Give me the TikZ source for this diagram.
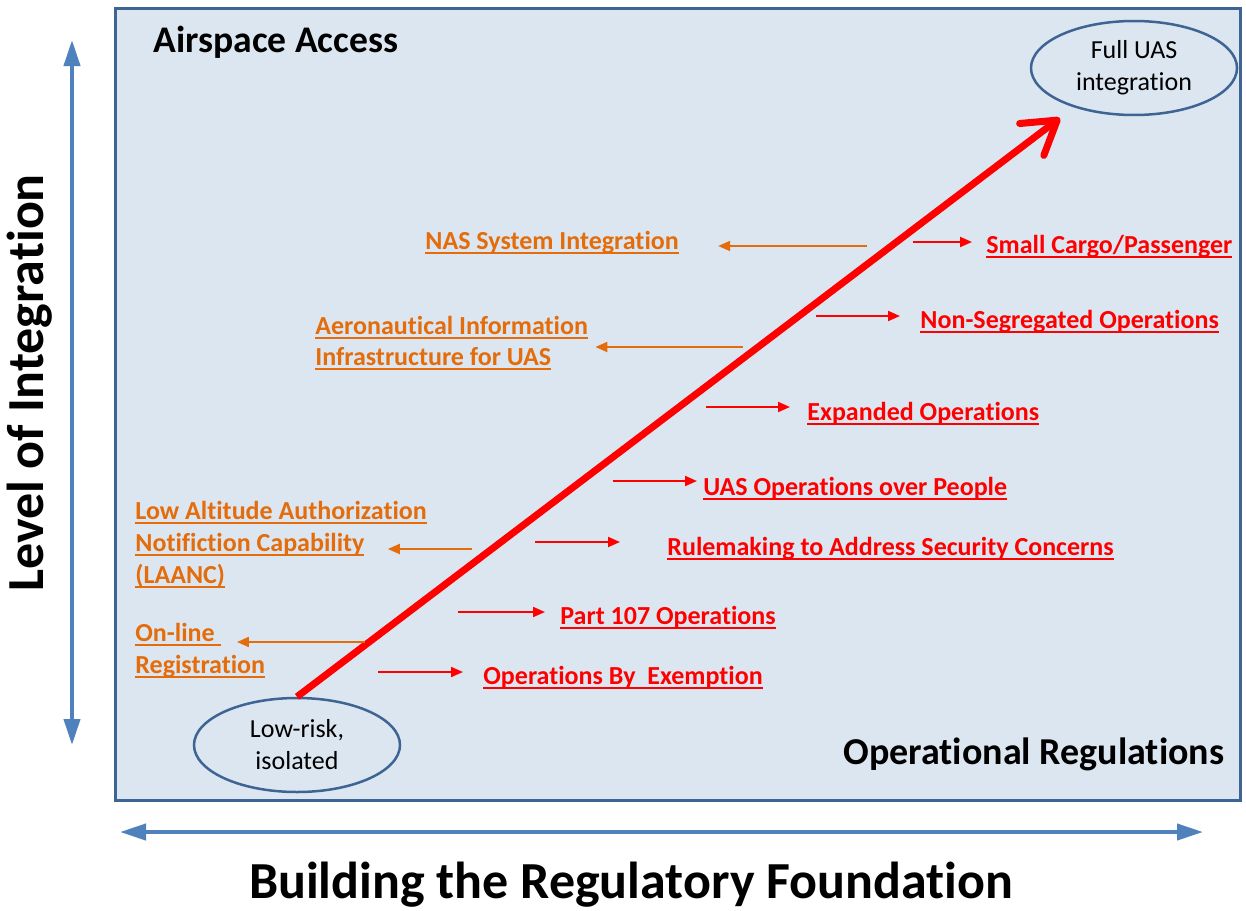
\documentclass[tikz,border=0pt]{standalone}
\usepackage{fontspec}
\setmainfont[Ligatures=NoCommon]{Carlito}
\usetikzlibrary{arrows.meta,shapes.geometric}
\definecolor{uafill}{RGB}{220,230,241}
\definecolor{uaframe}{RGB}{62,100,148}
\definecolor{uablue}{RGB}{79,129,189}
\definecolor{uaorange}{RGB}{228,108,10}
\newcommand{\ulabel}[1]{\setbox0\hbox{#1}\rlap{\rule[-2.4pt]{\wd0}{0.8pt}}\box0}
\begin{document}
\begin{tikzpicture}[x=0.5pt,y=-0.5pt,
  lbl/.style={anchor=base west,inner sep=0pt,font=\bfseries\fontsize{13}{15}\selectfont},
  oplbl/.style={lbl,text=red},
  auxlbl/.style={lbl,text=uaorange},
  stage/.style={ellipse,draw=uaframe,line width=1.25pt,minimum width=103pt,minimum height=47pt,align=center,inner sep=0pt,font=\fontsize{13}{16}\selectfont},
  oparrow/.style={red,line width=1pt,-{Triangle[length=6pt,width=5pt]}},
  auxarrow/.style={uaorange,line width=1pt,-{Triangle[length=6pt,width=5pt]}},
  axisarrow/.style={uablue,line width=2pt,{Triangle[length=13pt,width=8pt]}-{Triangle[length=13pt,width=8pt]}}]
    \useasboundingbox (0,0) rectangle (1246,910);
    %% Frame
    \draw[fill=uafill,draw=uaframe,line width=1.5pt] (115,8) rectangle (1240,800);
    \node[lbl,font=\bfseries\fontsize{18.8}{22}\selectfont] (access) at (153,52) {Airspace Access};
    \node[lbl,font=\bfseries\fontsize{19}{22}\selectfont] (regs) at (843,764) {Operational Regulations};
    %% Axes
    \coordinate (ybot) at (72,745);
    \coordinate (ytop) at (72,40);
    \coordinate (xleft) at (120,832);
    \coordinate (xright) at (1203,832);
    \draw[axisarrow] (ybot) -- (ytop);
    \draw[axisarrow] (xleft) -- (xright);
    \node[rotate=90,font=\bfseries\fontsize{26}{30}\selectfont] (ylabel) at (30,383) {Level of Integration};
    \node[font=\bfseries\fontsize{26}{30}\selectfont] (xlabel) at (631,885) {Building the Regulatory Foundation};
    %% Start and end
    \node[stage] (low) at (297,745) {Low-risk,\\isolated};
    \node[stage] (full) at (1134,68) {Full UAS\\integration};
    \coordinate (tip) at (1060,118);
    \draw[red,line width=3.5pt,-{Straight Barb[length=16pt,width=20pt,round]}] (low.north) -- (tip);
    %% Operational steps (right)
    \node[oplbl] (cargo) at (986,253) {\ulabel{Small Cargo/Passenger}};
    \node[oplbl] (nonseg) at (920,328) {\ulabel{Non-Segregated Operations}};
    \node[oplbl] (expanded) at (807,420) {\ulabel{Expanded Operations}};
    \node[oplbl] (people) at (703,495) {\ulabel{UAS Operations over People}};
    \node[oplbl] (security) at (667,555) {\ulabel{Rulemaking to Address Security Concerns}};
    \node[oplbl] (part) at (560,624) {\ulabel{Part 107 Operations}};
    \node[oplbl] (exemption) at (483,684) {\ulabel{Operations By\ \ Exemption}};
    \coordinate (s1) at (913,242);
    \coordinate (s2) at (816,316);
    \coordinate (s3) at (706,407);
    \coordinate (s4) at (613,481);
    \coordinate (s5) at (535,542);
    \coordinate (s6) at (458,612);
    \coordinate (s7) at (378,672);
    \draw[oparrow,shorten >=7pt] (s1) -- (s1 -| cargo.west);
    \draw[oparrow,shorten >=10pt] (s2) -- (s2 -| nonseg.west);
    \draw[oparrow,shorten >=8.5pt] (s3) -- (s3 -| expanded.west);
    \draw[oparrow,shorten >=3pt] (s4) -- (s4 -| people.west);
    \draw[oparrow,shorten >=23.5pt] (s5) -- (s5 -| security.west);
    \draw[oparrow,shorten >=7.5pt] (s6) -- (s6 -| part.west);
    \draw[oparrow,shorten >=10pt] (s7) -- (s7 -| exemption.west);
    %% Supporting steps (left)
    \node[auxlbl] (nas) at (425,249) {\ulabel{NAS System Integration}};
    \node[auxlbl] (aero1) at (315,334) {\ulabel{Aeronautical Information}};
    \node[auxlbl] (aero2) at (315,365) {\ulabel{Infrastructure for UAS}};
    \node[auxlbl] (laanc1) at (135,519) {\ulabel{Low Altitude Authorization}};
    \node[auxlbl] (laanc2) at (135,551) {\ulabel{Notifiction Capability}};
    \node[auxlbl] (laanc3) at (135,583) {\ulabel{(LAANC)}};
    \node[auxlbl] (online1) at (135,641) {\ulabel{On-line\ }};
    \node[auxlbl] (online2) at (135,673) {\ulabel{Registration}};
    \coordinate (o1) at (867,246);
    \coordinate (o2) at (743,347);
    \coordinate (o3) at (472,549);
    \coordinate (o4) at (365,642);
    \draw[auxarrow,shorten >=19.5pt] (o1) -- (o1 -| nas.east);
    \draw[auxarrow,shorten >=3.5pt] (o2) -- (o2 -| aero1.east);
    \draw[auxarrow,shorten >=11.5pt] (o3) -- (o3 -| laanc2.east);
    \draw[auxarrow,shorten >=8pt] (o4) -- (o4 -| online1.east);
\end{tikzpicture}
\end{document}
